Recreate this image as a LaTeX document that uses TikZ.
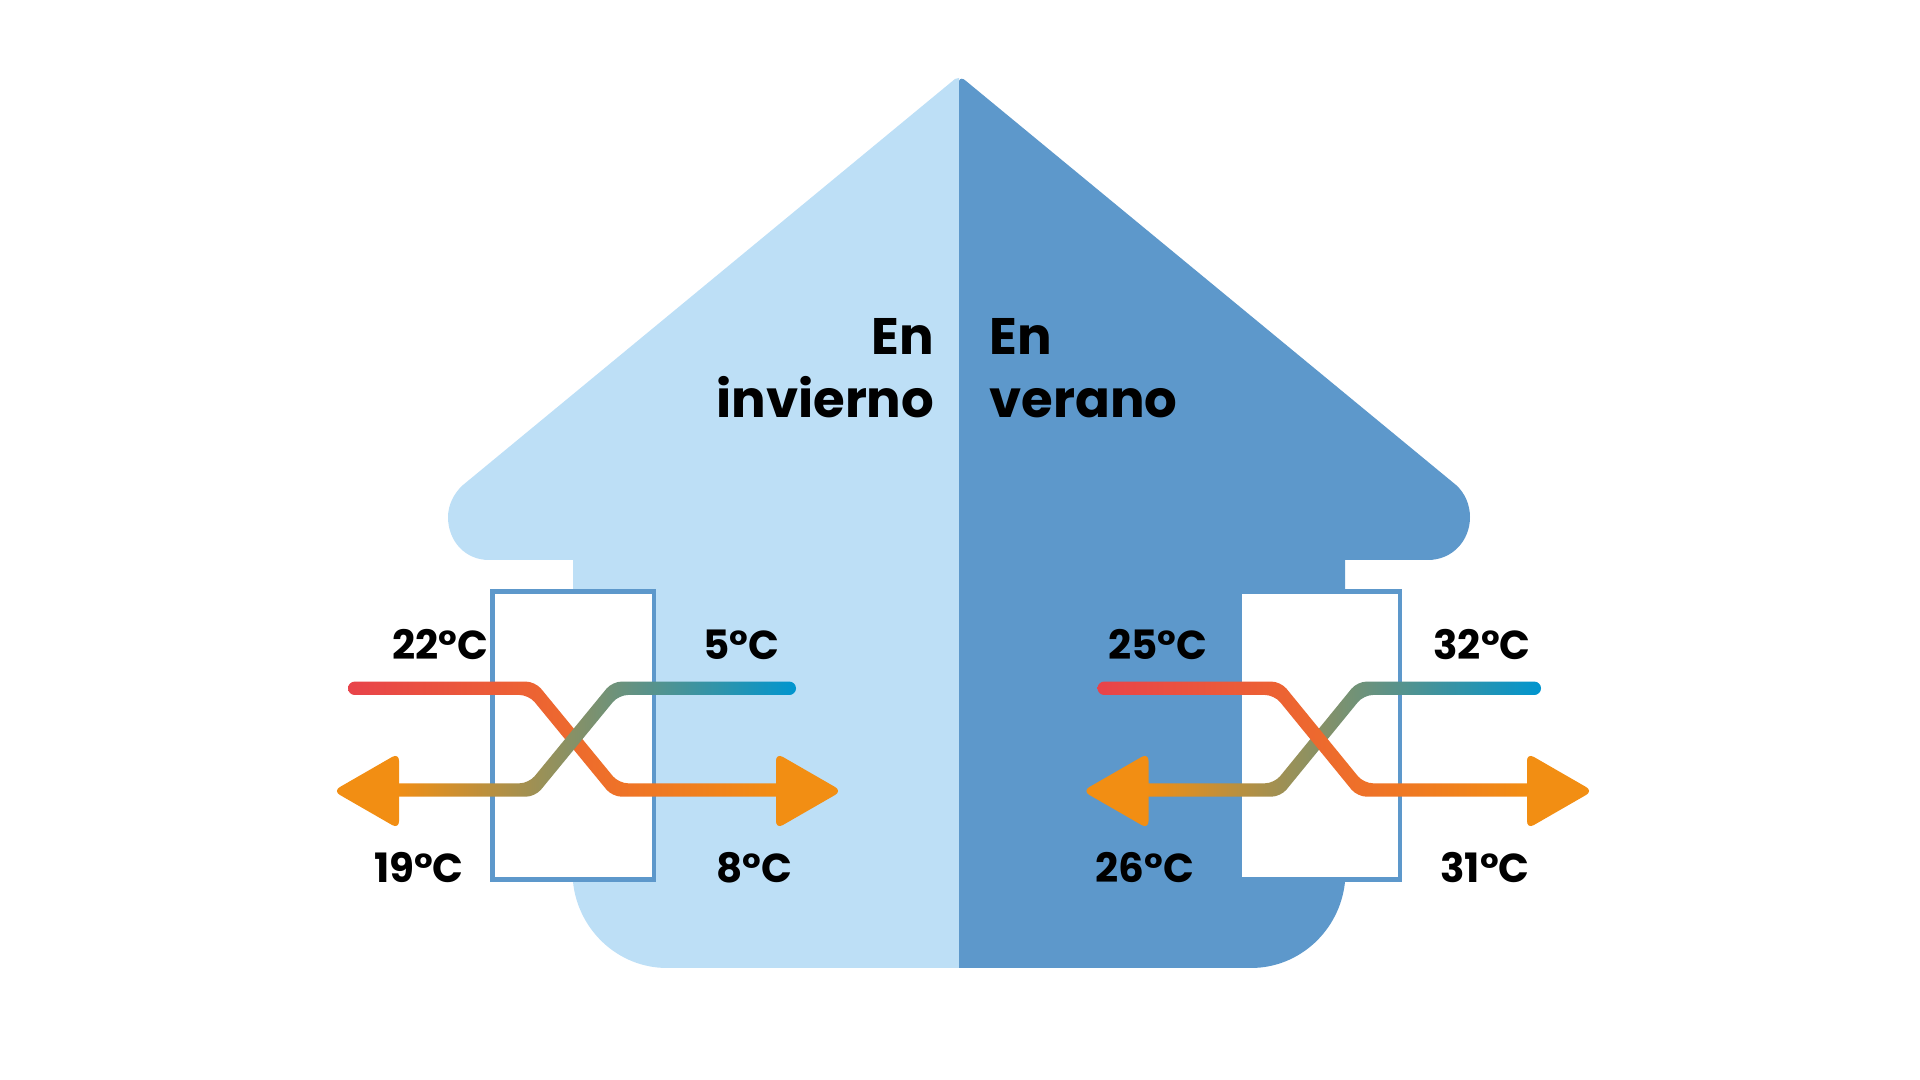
\documentclass[tikz,border=0pt]{standalone}
\usepackage{fontspec}
\setmainfont{Poppins}
\definecolor{winterblue}{RGB}{189,223,246}
\definecolor{summerblue}{RGB}{93,152,203}
\definecolor{hotred}{RGB}{232,67,74}
\definecolor{midorange}{RGB}{238,106,47}
\definecolor{headorange}{RGB}{242,142,19}
\definecolor{coldblue}{RGB}{0,149,207}
\definecolor{midgreen}{RGB}{122,149,112}
% one band of a flow: start x, upper bend x, lower bend x, end x, bend offset
\newcommand{\flowband}[6][]{%
  \shade[#1, rounded corners=1.9pt] (#2,681.6) [rounded corners=2.6pt] -- ({#3+#6},681.6)
    -- ({#4+#6},783.3) [rounded corners=1pt] -- (#5,783.3) -- (#5,796.7)
    [rounded corners=2.6pt] -- ({#4-#6},796.7) -- ({#3-#6},695)
    [rounded corners=1.9pt] -- (#2,695) -- cycle;}
\newcommand{\flowhead}[2]{\fill[headfill] (#1,753) -- (#1,829) -- (#2,791) -- cycle;}
\tikzset{
  warmband/.style={left color=hotred, middle color=midorange, right color=headorange},
  coolband/.style={left color=headorange, middle color=midgreen, right color=coldblue},
  headfill/.style={headorange, rounded corners=2.2pt},
  unitbox/.style={draw=summerblue, fill=white, line width=0.44mm},
  seasonlab/.style={font=\fontsize{14.6}{18}\selectfont\bfseries, text=black, inner sep=0pt},
  templab/.style={font=\fontsize{11.5}{14}\selectfont\bfseries, text=black, inner sep=0pt, anchor=base},
}
\begin{document}
\begin{tikzpicture}[x=0.01cm, y=-0.01cm]
  \useasboundingbox (0,0) rectangle (1920,1080);
  % house halves
  \fill[winterblue] (959,78) -- (955,79) -- (463,485) .. controls (454,493) and (448,505) .. (448,517)
    .. controls (448,541) and (465,560) .. (489,560) -- (573,560) -- (573,882)
    .. controls (578,930) and (618,968) .. (667,968) -- (959,968) -- cycle;
  \fill[summerblue] (959,968) -- (1251,968) .. controls (1300,968) and (1340,930) .. (1345,882)
    -- (1345,560) -- (1428,560) .. controls (1452,560) and (1470,541) .. (1470,517)
    .. controls (1470,505) and (1465,493) .. (1456,485) -- (966,81)
    .. controls (963,78) and (960,78) .. (959,81) -- cycle;
  % exchangers
  \draw[unitbox] (492.5,591.5) rectangle (653.7,879.5);
  \draw[unitbox] (1239.5,591.5) rectangle (1400,879.5);
  % winter flows
  \flowband[warmband]{348}{532}{615.5}{780}{3.2}
  \flowband[coolband]{796}{615.5}{532}{395}{-3.2}
  \flowhead{776}{842}
  \flowhead{399}{333}
  % summer flows
  \flowband[coolband]{1541}{1360.5}{1277.5}{1144}{-3.2}
  \flowband[warmband]{1097.5}{1277.5}{1360.5}{1531}{3.2}
  \flowhead{1527}{1593}
  \flowhead{1148.5}{1082.5}
  % labels
  \node[seasonlab, align=right, anchor=east] (invierno) at (935,368) {En\\invierno};
  \node[seasonlab, align=left, anchor=west] (verano) at (989,368) {En\\verano};
  \node[templab] (ta) at (440,660) {22°C};
  \node[templab] (tb) at (741,660) {5°C};
  \node[templab] (tc) at (419,883) {19°C};
  \node[templab] (td) at (754,883) {8°C};
  \node[templab] (te) at (1158,660) {25°C};
  \node[templab] (tf) at (1482,660) {32°C};
  \node[templab] (tg) at (1145,883) {26°C};
  \node[templab] (th) at (1485,883) {31°C};
\end{tikzpicture}
\end{document}
